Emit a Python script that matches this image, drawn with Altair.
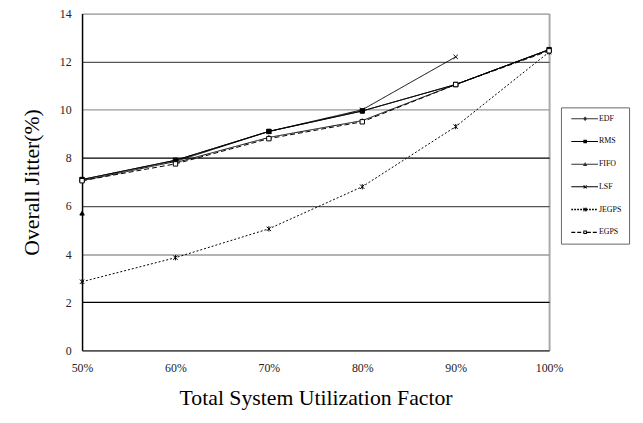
import altair as alt
import pandas as pd

# ---------------- data ----------------
utilization = [50, 60, 70, 80, 90, 100]
series_names = ["EDF", "RMS", "FIFO", "LSF", "JEGPS", "EGPS"]
edf = [7.05, 7.85, 9.1, 9.95, 11.05, 12.5]
rms = [7.1, 7.9, 9.1, 9.95, 11.05, 12.5]
fifo = [5.7, 7.8, 8.85, 9.55, 11.05, 12.5]
lsf = [7.1, 7.9, 9.1, 10.0, 12.2, None]
jegps = [2.85, 3.85, 5.05, 6.8, 9.3, 12.4]
egps = [7.05, 7.75, 8.8, 9.5, 11.05, 12.45]
# points that are drawn but not joined to the rest of their line
unjoined = [("FIFO", 50)]
y_ticks = [0, 2, 4, 6, 8, 10, 12, 14]

values = dict(zip(series_names, [edf, rms, fifo, lsf, jegps, egps]))
rows = []
for s in series_names:
    for u, v in zip(utilization, values[s]):
        if v is None:
            continue
        seg = s + ("_solo" if (s, u) in unjoined else "")
        rows.append({"series": s, "util": u, "value": v, "segment": seg})
df = pd.DataFrame(rows)

# ---------------- styles ----------------
FONT = "Liberation Serif"
dash_range = [[1, 0], [1, 0], [1, 0], [1, 0], [2, 2], [5, 3]]
width_range = [1, 1, 1, 0.8, 1.8, 1.1]
X_PATH = "M-1,-1L1,1M-1,1L1,-1"
AST_PATH = "M-1,-1L1,1M-1,1L1,-1M0,-1.2V1.2"
shape_range = ["diamond", "square", "triangle-up", X_PATH, AST_PATH, "square"]
fill_range = ["black", "black", "black", "black", "black", "white"]


# legend symbols: line + marker as one fill-only custom path (unit = 4px)
def f2(v):
    return f"{v:.3f}"


def bar(x0, x1, h):
    return f"M{f2(x0)},{f2(-h)}H{f2(x1)}V{f2(h)}H{f2(x0)}Z"


def seg_line(x0, x1, h=0.125, dash=None):
    if dash is None:
        return bar(x0, x1, h)
    on, off = dash
    out, x = [], x0
    while x < x1 - 0.01:
        out.append(bar(x, min(x + on, x1), h))
        x += on + off
    return "".join(out)


def diag(cx, r, sign, d=0.08):
    # thin quad from (cx-r, -sign*r) to (cx+r, sign*r)
    p = [(cx - r - d, -sign * r + sign * d), (cx - r + d, -sign * r - sign * d),
         (cx + r + d, sign * r - sign * d), (cx + r - d, sign * r + sign * d)]
    return "M" + "L".join(f"{f2(a)},{f2(b)}" for a, b in p) + "Z"


LX0, LX1, MC, MH = -0.25, 6.5, 3.25, 0.55
SQ = 0.45
mk = {
    "diamond": f"M{f2(MC)},{f2(-MH)}L{f2(MC+MH)},0L{f2(MC)},{f2(MH)}L{f2(MC-MH)},0Z",
    "square": bar(MC - SQ, MC + SQ, SQ),
    "tri": f"M{f2(MC)},{f2(-MH)}L{f2(MC+MH)},{f2(0.45)}H{f2(MC-MH)}Z",
    "x": diag(MC, 0.38, 1) + diag(MC, 0.38, -1),
    "ast": diag(MC, 0.42, 1) + diag(MC, 0.42, -1) + f"M{f2(MC-0.08)},-0.55H{f2(MC+0.08)}V0.55H{f2(MC-0.08)}Z",
    "osq": bar(MC - SQ, MC + SQ, SQ)
    + f"M{f2(MC-SQ+0.25)},{f2(-SQ+0.25)}V{f2(SQ-0.25)}H{f2(MC+SQ-0.25)}V{f2(-SQ+0.25)}Z",
}
legend_path_range = [
    seg_line(LX0, LX1) + mk["diamond"],
    seg_line(LX0, LX1) + mk["square"],
    seg_line(LX0, LX1) + mk["tri"],
    seg_line(LX0, LX1) + mk["x"],
    seg_line(LX0, LX1, 0.19, (0.45, 0.3)) + mk["ast"],
    seg_line(LX0, MC - SQ, 0.15, (1.0, 0.5)) + seg_line(MC + SQ, LX1, 0.15, (1.0, 0.5)) + mk["osq"],
]
legend_fill = ["#333333", "black", "#333333", "black", "black", "black"]

x_scale = alt.Scale(domain=[50, 100], nice=False)
y_scale = alt.Scale(domain=[0, 14], nice=False)

grid_color = {
    "condition": [
        {"test": "datum.value === 8 || datum.value === 2", "value": "#000000"},
        {"test": "datum.value === 12 || datum.value === 6 || datum.value === 0", "value": "#555555"},
    ],
    "value": "#9a9a9a",
}

x_axis = alt.Axis(
    values=utilization, labelExpr="datum.value + '%'", tickSize=0, labelFlush=False,
    labelPadding=13, labelFont=FONT, labelFontSize=12, labelColor="#222",
    domainColor="#555", domainWidth=1.5,
    grid=True, gridColor="#aaaaaa", gridWidth=2,
    gridOpacity={"condition": {"test": "datum.value === 100", "value": 1}, "value": 0},
    title="Total System Utilization Factor", titleFont=FONT, titleFontSize=22,
    titleFontWeight="normal", titleColor="black", titlePadding=14,
)
y_axis = alt.Axis(
    values=y_ticks, tickSize=0, labelPadding=11, labelFont=FONT, labelFontSize=12,
    labelColor="#222", domainColor="black", domainWidth=1.5,
    grid=True, gridColor=grid_color, gridWidth=1.3,
    title="Overall Jitter(%)", titleFont=FONT, titleFontSize=22,
    titleFontWeight="normal", titleColor="black", titlePadding=16,
)

legend = alt.Legend(
    title=None, orient="none", legendX=485, legendY=95,
    padding=7.5, symbolSize=64, rowPadding=15, labelOffset=23,
    labelFont=FONT, labelFontSize=8, labelColor="black",
    strokeColor="#666", fillColor="white",
    symbolStrokeWidth=0, symbolStrokeColor="black", symbolOpacity=1,
)

base = alt.Chart(df)

lines = base.mark_line(color="black").encode(
    x=alt.X("util:Q", scale=x_scale, axis=x_axis),
    y=alt.Y("value:Q", scale=y_scale, axis=y_axis),
    detail="segment:N",
    strokeDash=alt.StrokeDash("series:N", scale=alt.Scale(domain=series_names, range=dash_range), legend=None),
    strokeWidth=alt.StrokeWidth("series:N", scale=alt.Scale(domain=series_names, range=width_range), legend=None),
)

points = base.mark_point(filled=False, color="black", strokeWidth=1, opacity=1, size=20).encode(
    x=alt.X("util:Q", scale=x_scale),
    y=alt.Y("value:Q", scale=y_scale),
    fill=alt.Fill("series:N", scale=alt.Scale(domain=series_names, range=fill_range), legend=None),
    shape=alt.Shape("series:N", scale=alt.Scale(domain=series_names, range=shape_range), legend=None),
)

# legend-only layer: no rows pass the filter, the legend comes from the explicit domain
legend_layer = base.transform_filter("false").mark_point(
    filled=False, color="black", strokeWidth=1, opacity=1
).encode(
    x=alt.X("util:Q", scale=x_scale),
    y=alt.Y("value:Q", scale=y_scale),
    fill=alt.Fill("series:N", scale=alt.Scale(domain=series_names, range=legend_fill), legend=legend),
    shape=alt.Shape("series:N", scale=alt.Scale(domain=series_names, range=legend_path_range), legend=legend),
)

chart = (
    alt.layer(lines, points, legend_layer)
    .resolve_scale(shape="independent", fill="independent")
    .properties(
        width=473, height=341,
        autosize=alt.AutoSizeParams(type="none"),
        padding={"left": 75, "top": 3, "right": 87, "bottom": 71},
    )
    .configure_view(stroke=None)
    .configure(background="white")
)

chart.save("out.html", embed_options={"renderer": "svg", "actions": False})
